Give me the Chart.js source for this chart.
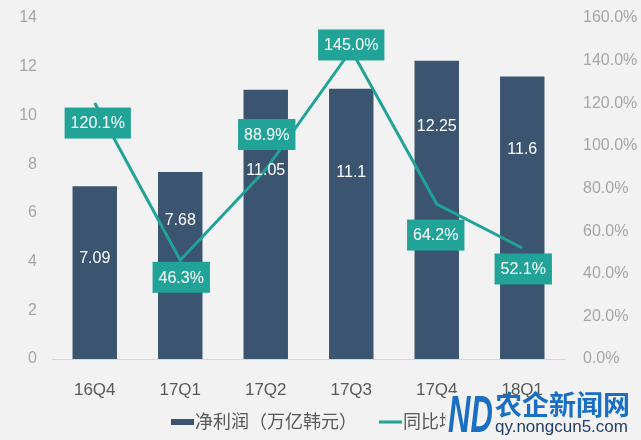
<!DOCTYPE html>
<html>
<head>
<meta charset="utf-8">
<script src="https://cdn.jsdelivr.net/npm/chart.js@4.4.0/dist/chart.umd.min.js"></script>
<style>
  html, body { margin: 0; padding: 0; background: #f2f2f2; }
</style>
</head>
<body>
<canvas id="chart" width="641" height="440"></canvas>
<script>
// 数据
const quarters = ['16Q4', '17Q1', '17Q2', '17Q3', '17Q4', '18Q1'];
const netProfit = [7.09, 7.68, 11.05, 11.1, 12.25, 11.6];
const growthLine = [120.1, 46.3, 88.9, 145.0, 72.7, 52.1];   // as plotted
const growthText = ['120.1%', '46.3%', '88.9%', '145.0%', '64.2%', '52.1%'];
const profitTicks = [0, 2, 4, 6, 8, 10, 12, 14];
const growthTicks = [0, 20, 40, 60, 80, 100, 120, 140, 160];

const FONT = '"Liberation Sans", "Noto Sans CJK SC", sans-serif';
const NAVY = '#3b5470';
const TEAL = '#21a398';

// labels on bars + teal boxes on the line
const valueLabels = {
    id: 'valueLabels',
    afterDatasetsDraw(chart, args, opts) {
        const ctx = chart.ctx;
        const bars = chart.getDatasetMeta(0).data;
        const pts = chart.getDatasetMeta(1).data;
        ctx.save();
        ctx.font = '16px ' + FONT;
        ctx.textAlign = 'center';
        ctx.textBaseline = 'middle';
        ctx.fillStyle = '#ffffff';
        bars.forEach((bar, i) => ctx.fillText(String(netProfit[i]), bar.x, bar.y + opts.barDrop[i]));
        pts.forEach((pt, i) => {
            const [dx, dy] = opts.boxShift[i];
            const w = ctx.measureText(growthText[i]).width + 12;
            const h = 31;
            ctx.fillStyle = TEAL;
            ctx.fillRect(pt.x + dx - w / 2, pt.y + dy - h / 2, w, h);
            ctx.fillStyle = '#ffffff';
            ctx.fillText(growthText[i], pt.x + dx, pt.y + dy + 1);
        });
        ctx.restore();
    }
};

// legend under the axis: bar swatch + line swatch
const bottomLegend = {
    id: 'bottomLegend',
    afterDraw(chart, args, opts) {
        const ctx = chart.ctx;
        const sets = chart.data.datasets;
        ctx.save();
        ctx.font = '18px ' + FONT;
        ctx.textBaseline = 'middle';
        const widths = sets.map(d => 24 + ctx.measureText(d.label).width);
        const total = widths.reduce((a, b) => a + b, 0) + opts.gap;
        let x = opts.centerX - total / 2;
        const y = opts.y;
        sets.forEach((d, i) => {
            if (d.type === 'bar') {
                ctx.fillStyle = NAVY;
                ctx.fillRect(x, y - 3, 23, 6);
            } else {
                ctx.strokeStyle = TEAL;
                ctx.lineWidth = 3;
                ctx.beginPath();
                ctx.moveTo(x, y);
                ctx.lineTo(x + 23, y);
                ctx.stroke();
            }
            ctx.fillStyle = '#595959';
            ctx.fillText(d.label, x + 24, y + 1);
            x += widths[i] + opts.gap;
        });
        ctx.restore();
    }
};

// site logo sitting over the bottom right corner
const siteLogo = {
    id: 'siteLogo',
    afterDraw(chart) {
        const ctx = chart.ctx;
        ctx.save();
        ctx.fillStyle = '#f2f2f2';
        ctx.fillRect(446, 393, 50, 42);
        ctx.fillStyle = '#1a6fc4';
        ctx.translate(448, 432);
        ctx.scale(1, 1.7);
        ctx.font = 'bold italic 31px "Liberation Sans", sans-serif';
        ctx.fillText('ND', 0, 0);
        ctx.restore();

        ctx.save();
        ctx.fillStyle = '#1a6fc4';
        ctx.font = 'bold 27px "Noto Sans CJK SC", sans-serif';
        ctx.textBaseline = 'middle';
        ctx.fillText('农企新闻网', 495, 405);
        ctx.fillStyle = '#23406a';
        ctx.font = '17px "Liberation Sans", sans-serif';
        ctx.fillText('qy.nongcun5.com', 495, 427);
        ctx.restore();
    }
};

// keep the tick padding from pushing the plot area down
const trimPad = (s, w) => { s.width = w; s.paddingTop = 9; s.paddingBottom = 9; };

new Chart(document.getElementById('chart').getContext('2d'), {
    data: {
        labels: quarters,
        datasets: [{
            type: 'bar',
            label: '净利润（万亿韩元）',
            data: netProfit,
            backgroundColor: NAVY,
            yAxisID: 'y',
            order: 1,
            categoryPercentage: 1,
            barPercentage: 0.52
        }, {
            type: 'line',
            label: '同比增长',
            data: growthLine,
            borderColor: TEAL,
            backgroundColor: TEAL,
            borderWidth: 3,
            pointRadius: 0,
            tension: 0,
            fill: false,
            yAxisID: 'y1',
            order: 0
        }]
    },
    options: {
        responsive: false,
        animation: false,
        layout: { padding: { top: 18, left: 0, right: 0, bottom: 40 } },
        plugins: {
            tooltip: { enabled: false },
            legend: { display: false },
            bottomLegend: { centerX: 323, y: 422, gap: 22 },
            valueLabels: {
                barDrop: [72, 49, 81, 84, 66, 73],
                boxShift: [[3, 20], [1, 17], [1, -35], [0, -5], [-1, 31], [1, 21]]
            }
        },
        scales: {
            x: {
                grid: { display: false, drawTicks: false },
                border: { color: '#d6d6d6' },
                ticks: { color: '#595959', font: { size: 17, family: FONT }, padding: 21 },
                afterFit: (s) => { s.height = 41; }
            },
            y: {
                position: 'left',
                min: 0,
                max: 14,
                grid: { display: false, drawTicks: false },
                border: { display: false },
                ticks: { color: '#a6a6a6', font: { size: 16, family: FONT }, padding: 15 },
                afterBuildTicks: (s) => { s.ticks = profitTicks.map(v => ({ value: v })); },
                afterFit: (s) => trimPad(s, 52)
            },
            y1: {
                position: 'right',
                min: 0,
                max: 160,
                grid: { display: false, drawTicks: false },
                border: { display: false },
                ticks: {
                    color: '#a6a6a6',
                    font: { size: 16, family: FONT },
                    padding: 18,
                    callback: (v) => v.toFixed(1) + '%'
                },
                afterBuildTicks: (s) => { s.ticks = growthTicks.map(v => ({ value: v })); },
                afterFit: (s) => trimPad(s, 76)
            }
        }
    },
    plugins: [valueLabels, bottomLegend, siteLogo]
});
</script>
</body>
</html>
